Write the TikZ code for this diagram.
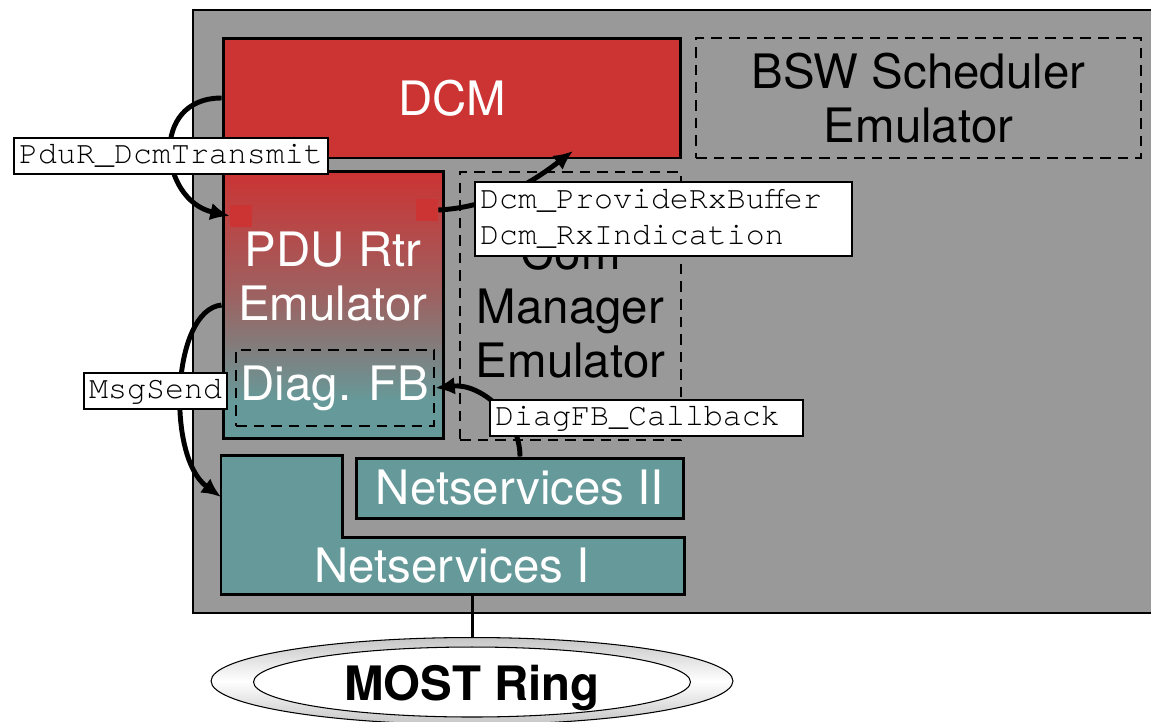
\documentclass[tikz,border=0pt]{standalone}
\usepackage{fontspec}
\usetikzlibrary{arrows.meta,shapes.geometric}

\newfontfamily\boxfont{TeX Gyre Heros}
\newfontfamily\codefont{texgyrecursor-regular.otf}

\definecolor{dcmred}{HTML}{CC3333}
\definecolor{nsteal}{HTML}{669999}
\definecolor{ecugray}{HTML}{999999}
\colorlet{pdumid}{nsteal!45!dcmred}

\pgfdeclareverticalshading{pdushade}{100bp}{color(0bp)=(nsteal); color(32bp)=(nsteal); color(52bp)=(pdumid); color(75bp)=(dcmred); color(100bp)=(dcmred)}

\begin{document}
\begin{tikzpicture}[x=0.02cm, y=-0.02cm,
  blocktext/.style={inner sep=0pt, align=center, font=\boxfont\fontsize{27}{30.7}\selectfont},
  block/.style={blocktext, draw, line width=1.7pt},
  dashblock/.style={block, dash pattern=on 6pt off 4pt, line width=1.6pt},
  codebox/.style={draw, fill=white, line width=1.1pt, anchor=west, inner xsep=3pt, inner ysep=2.25pt, text height=12.5pt, text depth=4pt, font=\codefont\fontsize{18}{21}\selectfont},
  callarrow/.style={line width=2.8pt, -{Latex[length=11pt,width=10pt]}},
  port/.style={fill=dcmred, minimum size=0.44cm, inner sep=0pt}]

\useasboundingbox (0,0) rectangle (1151,721);

\filldraw [fill=ecugray, line width=1.5pt] (193,10) rectangle (1165,613);

\node [block, fill=dcmred, text=white, minimum width=9.16cm, minimum height=2.4cm] (dcm) at (452,98) {DCM};
\node [dashblock, minimum width=8.9cm, minimum height=2.4cm] (bsw) at (918.5,98) {BSW Scheduler\\Emulator};

\node [block, shade, shading=pdushade, minimum width=4.42cm, minimum height=5.36cm] (pdu) at (333.5,305) {};
\node [port] (portA) at (241,216) {};
\node [port] (portB) at (427,210) {};
\node [blocktext, text=white] (pduTxt) at (333,277) {PDU Rtr\\Emulator};
\node [dashblock, text=white, minimum width=3.96cm, minimum height=1.52cm] (diag) at (335,388) {Diag. FB};

\node [dashblock, minimum width=4.42cm, minimum height=5.36cm] (com) at (570.5,306) {Com\\Manager\\Emulator};

\node [block, fill=nsteal, text=white, minimum width=6.56cm, minimum height=1.2cm] (ns2) at (520,488) {Netservices II};
\filldraw [fill=nsteal, line width=1.7pt] (221,455) -- (342,455) -- (342,537) -- (684,537) -- (684,594) -- (221,594) -- cycle;
\node [blocktext, text=white] (ns1) at (452,566) {Netservices I};
\coordinate (ns1In) at (221,497);
\coordinate (ns1Out) at (472,594);

\node [ellipse, draw, line width=0.6pt, top color=gray!45, bottom color=gray!45, middle color=white, minimum width=10.44cm, minimum height=1.74cm] (ring) at (472,681) {};
\node [ellipse, draw, line width=0.6pt, fill=white, minimum width=8.74cm, minimum height=1.4cm] (ringIn) at (472,682) {};
\node [blocktext, font=\boxfont\bfseries\fontsize{27}{30.7}\selectfont] (ringTxt) at (472,688) {MOST Ring};
\draw [line width=1.7pt] (ns1Out) -- (ring);

\coordinate (dcmIn) at (573,151);
\draw [callarrow] (dcm.west) .. controls +(-73,0) and +(-70,-16) .. (portA.west);
\draw [callarrow] (portB.east) .. controls +(60,-3) and +(-33,25) .. (dcmIn);
\draw [callarrow] (pdu.west) .. controls +(-50,5) and +(-55,-40) .. (ns1In);
\draw [callarrow] (ns2.north) .. controls +(0,-40) and +(45,-5) .. (diag.east);

\node [codebox] (txLbl) at (13,156) {PduR\_DcmTransmit};
\node [codebox, text width=7.33cm, align=left, text depth=25pt] (rxLbl) at (474,219) {Dcm\_ProvideRxBuffer\\Dcm\_RxIndication};
\node [codebox] (msgLbl) at (83,391) {MsgSend};
\node [codebox, text width=6.05cm, align=left] (cbLbl) at (489,418) {DiagFB\_Callback};
\end{tikzpicture}
\end{document}
